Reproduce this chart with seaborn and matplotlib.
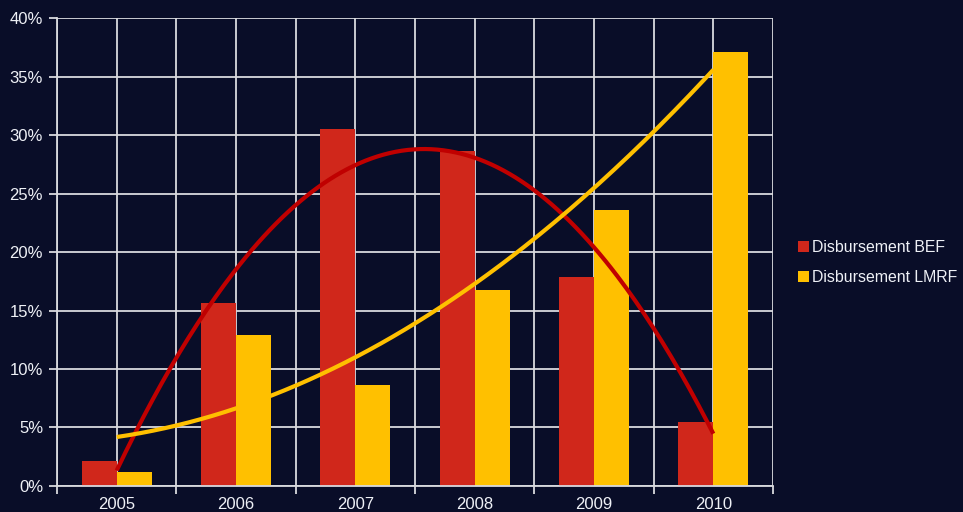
import numpy as np
import pandas as pd
import matplotlib
matplotlib.use("Agg")
import matplotlib.pyplot as plt
from matplotlib.ticker import FixedLocator, FuncFormatter
from matplotlib.patches import Patch
import seaborn as sns

# Disbursement shares per year (percent)
years = ["2005", "2006", "2007", "2008", "2009", "2010"]
bef = [2.1, 15.6, 30.5, 28.6, 17.9, 5.5]
lmrf = [1.2, 12.9, 8.6, 16.75, 23.6, 37.1]
series_names = ["Disbursement BEF", "Disbursement LMRF"]
y_ticks = [0, 5, 10, 15, 20, 25, 30, 35, 40]

BG = "#090d28"
RED = "#d0271b"
YELLOW = "#ffc000"
RED_TREND = "#c00000"
YELLOW_TREND = "#ffc000"
GRID = "#d9d9de"
TEXT = "#eef0f6"

sns.set_theme(style="dark")
plt.rcParams["font.family"] = ["Liberation Sans", "DejaVu Sans"]

df = pd.DataFrame({
    "year": years * 2,
    "value": bef + lmrf,
    "series": [series_names[0]] * len(years) + [series_names[1]] * len(years),
})

fig = plt.figure(figsize=(9.63, 5.12), dpi=100, facecolor=BG)
ax = fig.add_axes([0.0592, 0.0508, 0.7435, 0.914])
ax.set_facecolor(BG)

sns.barplot(data=df, x="year", y="value", hue="series", order=years,
            hue_order=series_names, palette=[RED, YELLOW], width=0.586,
            saturation=1, errorbar=None, legend=False, ax=ax, zorder=2)
for p in ax.patches:
    p.set_edgecolor("none")

# Second-order polynomial trend lines through each series
xs = np.arange(len(years))
xf = np.linspace(0, len(years) - 1, 200)
for vals, col in ((bef, RED_TREND), (lmrf, YELLOW_TREND)):
    coef = np.polyfit(xs + 1, vals, 2)
    ax.plot(xf, np.polyval(coef, xf + 1), color=col, lw=3, zorder=3,
            solid_capstyle="butt")

ax.set_xlim(-0.5, len(years) - 0.5)
ax.set_ylim(0, 40)
ax.yaxis.set_major_locator(FixedLocator(y_ticks))
ax.yaxis.set_major_formatter(FuncFormatter(lambda v, _: f"{v:.0f}%"))
ax.set_xticks(xs)
ax.set_xticklabels(years)
ax.xaxis.set_minor_locator(FixedLocator(np.arange(-0.5, len(years), 1.0)))

ax.grid(True, which="both", color=GRID, lw=1.3, zorder=0)
ax.set_axisbelow(True)
ax.tick_params(axis="x", which="major", length=0, pad=7.8, colors=TEXT,
               labelsize=12)
ax.tick_params(axis="x", which="minor", length=6, width=1.3, color=GRID,
               direction="out", bottom=True)
ax.tick_params(axis="y", length=6, width=1.3, color=GRID, colors=TEXT,
               labelsize=12, pad=4, left=True)
for lab in ax.get_yticklabels() + ax.get_xticklabels():
    lab.set_color(TEXT)
ax.set_xlabel("")
ax.set_ylabel("")

for side in ("top", "right"):
    ax.spines[side].set_visible(False)
for side in ("left", "bottom"):
    ax.spines[side].set_visible(True)
    ax.spines[side].set_color(GRID)
    ax.spines[side].set_linewidth(1.3)

handles = [Patch(facecolor=RED, edgecolor="none"),
           Patch(facecolor=YELLOW, edgecolor="none")]
fig.legend(handles, series_names, loc="center left",
           bbox_to_anchor=(0.822, 0.487), frameon=False, fontsize=11.4,
           labelcolor=TEXT, handlelength=0.7, handleheight=0.7,
           handletextpad=0.2, labelspacing=0.95, borderaxespad=0)

fig.savefig("out.png", dpi=100, facecolor=BG)
